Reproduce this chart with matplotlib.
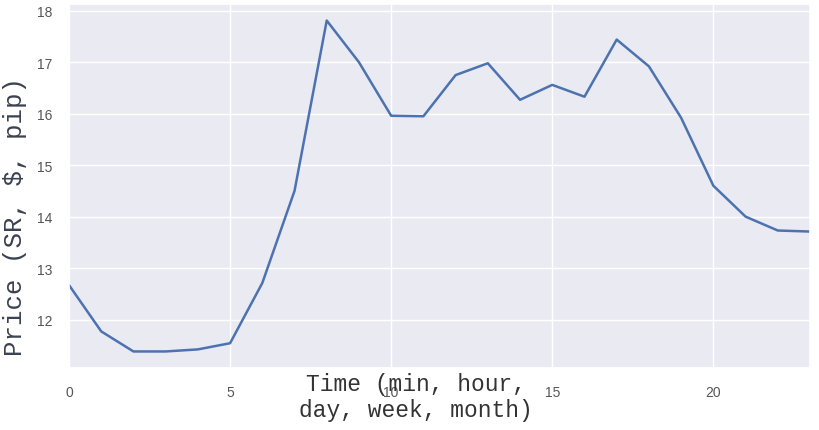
import numpy as np
import matplotlib
matplotlib.use("Agg")
import matplotlib.pyplot as plt
import seaborn as sns

# values
time_steps = list(range(24))
price = [12.67, 11.77, 11.38, 11.38, 11.42, 11.54, 12.71, 14.50,
         17.81, 17.00, 15.96, 15.95, 16.75, 16.98, 16.27, 16.56,
         16.33, 17.44, 16.92, 15.92, 14.60, 14.00, 13.73, 13.71]
x_ticks = [0, 5, 10, 15, 20]
y_ticks = [12, 13, 14, 15, 16, 17, 18]

sns.set_theme(style="darkgrid")
plt.rcParams['font.family'] = ['Liberation Sans', 'DejaVu Sans']

fig = plt.figure(figsize=(8.2, 4.31), dpi=100)
ax = fig.add_axes([69 / 820, 1 - 369 / 431, 741 / 820, 364 / 431])

ax.plot(time_steps, price, color='#4C72B0', linewidth=1.8)
ax.margins(x=0)
ax.set_xticks(x_ticks)
ax.set_yticks(y_ticks)
ax.tick_params(axis='both', labelsize=10, labelcolor='#555555', pad=6)

mono = ['Liberation Mono', 'DejaVu Sans Mono']
ax.set_ylabel("Price (SR, $, pip)", family=mono, fontsize=18.5, color='#3a4150')
ax.yaxis.set_label_coords(-0.057, 0.42)
ax.set_xlabel("Time (min, hour,\nday, week, month)", family=mono,
              fontsize=16.5, color='#333333', linespacing=1.12)
ax.xaxis.set_label_coords(0.468, -0.012)

fig.savefig("out.png", dpi=100)
